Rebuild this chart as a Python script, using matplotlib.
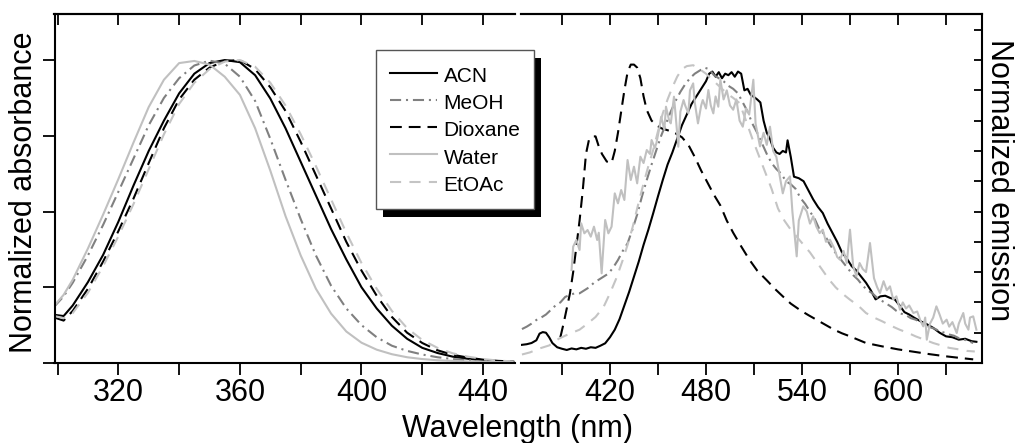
import matplotlib
matplotlib.use('Agg')
import matplotlib.pyplot as plt
import numpy as np
from matplotlib.patches import Rectangle
from matplotlib.transforms import IdentityTransform

plt.rcParams['font.family'] = ['Liberation Sans', 'DejaVu Sans']
plt.rcParams['lines.scale_dashes'] = False

# absorbance (left panel)
abs_wl = [299, 302, 305, 310, 315, 320, 325, 330, 335, 340, 345, 350, 355, 360, 365, 370,
          375, 380, 385, 390, 395, 400, 405, 410, 415, 420, 425, 430, 435, 440, 445, 450]
abs_acn = [0.159, 0.155, 0.19, 0.267, 0.357, 0.466, 0.586, 0.70, 0.80, 0.89, 0.955, 0.99, 1.0, 0.993,
           0.95, 0.873, 0.775, 0.664, 0.553, 0.442, 0.342, 0.25, 0.18, 0.123, 0.08, 0.05, 0.033,
           0.021, 0.014, 0.009, 0.006, 0.004]
abs_meoh = [0.187, 0.22, 0.265, 0.355, 0.456, 0.565, 0.675, 0.785, 0.875, 0.94, 0.982, 0.998, 0.988,
            0.945, 0.865, 0.74, 0.605, 0.475, 0.355, 0.255, 0.18, 0.125, 0.085, 0.057, 0.04, 0.028,
            0.019, 0.013, 0.009, 0.006, 0.004, 0.003]
abs_diox = [0.15, 0.14, 0.172, 0.245, 0.335, 0.435, 0.543, 0.66, 0.775, 0.87, 0.935, 0.975, 0.997,
            1.0, 0.97, 0.91, 0.832, 0.73, 0.62, 0.51, 0.40, 0.305, 0.222, 0.152, 0.10, 0.066, 0.042,
            0.027, 0.018, 0.011, 0.007, 0.005]
abs_water = [0.19, 0.225, 0.275, 0.378, 0.49, 0.607, 0.728, 0.845, 0.935, 0.99, 0.997, 0.985, 0.945,
             0.885, 0.775, 0.635, 0.485, 0.355, 0.245, 0.163, 0.104, 0.067, 0.044, 0.029, 0.019,
             0.013, 0.009, 0.007, 0.005, 0.004, 0.003, 0.002]
abs_etoac = [0.155, 0.148, 0.165, 0.232, 0.32, 0.418, 0.525, 0.64, 0.755, 0.855, 0.925, 0.97, 0.995,
             1.0, 0.978, 0.925, 0.85, 0.755, 0.65, 0.54, 0.43, 0.33, 0.245, 0.172, 0.115, 0.076,
             0.05, 0.032, 0.021, 0.013, 0.008, 0.005]

# emission (right panel)
em_acn_wl = [365, 368, 371, 374, 376, 378, 380, 382, 384, 387, 390, 393, 396, 399, 402, 405, 408,
             411, 414, 417, 420, 423, 426, 429, 432, 435, 438, 441, 444, 447, 450, 453, 456, 459,
             462, 465, 468, 471, 474, 477, 480, 482, 484, 486, 488, 490, 492, 494, 496, 498, 500,
             502, 504, 506, 508, 510, 512, 514, 516, 518, 520, 522, 524, 526, 528, 530, 531, 533,
             535, 538, 541, 544, 547, 550, 553, 556, 559, 562, 565, 568, 571, 574, 577, 580, 583,
             586, 589, 592, 595, 598, 601, 604, 607, 610, 614, 618, 622, 626, 630, 634, 638, 642,
             646, 649]
em_acn = [0.06, 0.062, 0.066, 0.075, 0.097, 0.102, 0.1, 0.085, 0.066, 0.052, 0.047, 0.043, 0.048,
          0.045, 0.05, 0.047, 0.052, 0.05, 0.057, 0.065, 0.085, 0.11, 0.145, 0.19, 0.235, 0.285,
          0.335, 0.39, 0.44, 0.494, 0.55, 0.604, 0.655, 0.695, 0.74, 0.785, 0.82, 0.855, 0.88,
          0.905, 0.93, 0.955, 0.962, 0.945, 0.96, 0.94, 0.955, 0.95, 0.96, 0.945, 0.962, 0.955,
          0.9, 0.905, 0.885, 0.878, 0.87, 0.86, 0.8, 0.76, 0.74, 0.71, 0.695, 0.69, 0.7, 0.695,
          0.735, 0.68, 0.615, 0.61, 0.6, 0.57, 0.54, 0.515, 0.495, 0.46, 0.43, 0.4, 0.365, 0.345,
          0.32, 0.305, 0.285, 0.265, 0.24, 0.21, 0.22, 0.222, 0.215, 0.21, 0.19, 0.168, 0.16,
          0.15, 0.138, 0.128, 0.116, 0.1, 0.088, 0.085, 0.077, 0.08, 0.072, 0.07]

em_meoh_wl = list(range(365, 648, 3))
em_meoh = [0.112, 0.12, 0.13, 0.142, 0.15, 0.16, 0.175, 0.19, 0.2, 0.218, 0.225, 0.23, 0.23, 0.24,
           0.25, 0.265, 0.275, 0.285, 0.295, 0.315, 0.34, 0.37, 0.395, 0.44, 0.49, 0.55, 0.604,
           0.655, 0.703, 0.75, 0.79, 0.83, 0.865, 0.895, 0.92, 0.94, 0.955, 0.965, 0.975, 0.97,
           0.95, 0.94, 0.93, 0.915, 0.905, 0.89, 0.86, 0.83, 0.79, 0.76, 0.725, 0.69, 0.66, 0.64,
           0.625, 0.6, 0.59, 0.575, 0.545, 0.525, 0.5, 0.475, 0.44, 0.425, 0.395, 0.37, 0.35, 0.33,
           0.31, 0.29, 0.275, 0.255, 0.24, 0.23, 0.215, 0.205, 0.195, 0.185, 0.172, 0.163, 0.158,
           0.148, 0.143, 0.135, 0.125, 0.118, 0.113, 0.105, 0.1, 0.094, 0.09, 0.082, 0.078, 0.072,
           0.066]

em_diox_wl = [389, 391, 393, 395, 397, 399, 401, 403, 405, 407, 409, 411, 413, 415, 418, 421, 423,
              425, 427, 429, 431, 433, 435, 437, 439, 441, 443, 446, 449, 452, 455, 458, 461, 465,
              469, 473, 477, 481, 485, 489, 493, 497, 502, 507, 512, 518, 523, 528, 533, 539, 544,
              549, 555, 560, 565, 570, 575, 580, 590, 600, 610, 620, 630, 640, 647]
em_diox = [0.085, 0.13, 0.18, 0.23, 0.3, 0.384, 0.47, 0.57, 0.69, 0.74, 0.748, 0.748, 0.715, 0.69,
           0.665, 0.66, 0.7, 0.76, 0.83, 0.9, 0.96, 0.985, 0.985, 0.975, 0.94, 0.88, 0.835, 0.8,
           0.785, 0.775, 0.77, 0.765, 0.758, 0.745, 0.72, 0.68, 0.635, 0.595, 0.555, 0.52, 0.47,
           0.43, 0.385, 0.342, 0.305, 0.273, 0.245, 0.22, 0.196, 0.174, 0.158, 0.143, 0.125, 0.11,
           0.098, 0.088, 0.077, 0.066, 0.055, 0.045, 0.037, 0.029, 0.022, 0.016, 0.012]

em_water_wl = [396, 397, 399, 401, 402, 404, 406, 408, 410, 412, 413, 414.8, 417, 419, 421, 423,
               425, 427, 429, 431, 433, 435, 437, 439, 441, 443, 445, 446, 448, 449, 451, 452, 454,
               455, 457, 458, 460, 461, 462.7, 464, 466, 467, 469, 470, 472, 473, 475, 477, 478,
               480, 481.5, 483, 484.6, 486, 487.7, 489, 491, 493, 495, 497, 499, 501, 503, 505,
               507, 509.6, 511, 513.75, 516, 518, 520, 522, 524, 526, 528, 530, 532.5, 534, 536.7,
               538, 540.8, 543, 545, 547, 549, 551, 553, 555, 557.5, 560, 562, 563.75, 566, 568,
               570, 572, 574, 576, 578, 580, 582.5, 585, 587, 588.75, 591, 593, 595, 597, 599,
               601.25, 603, 605, 607, 609.6, 612, 614, 615.8, 617, 618, 620, 622, 624, 626, 628,
               630.4, 632, 634, 636.7, 638, 640.8, 642, 644, 645, 647, 649]
em_water = [0.307, 0.384, 0.406, 0.373, 0.461, 0.428, 0.439, 0.417, 0.45, 0.406, 0.43, 0.296,
            0.472, 0.428, 0.45, 0.56, 0.527, 0.571, 0.538, 0.67, 0.604, 0.648, 0.593, 0.681, 0.66,
            0.703, 0.69, 0.736, 0.71, 0.725, 0.78, 0.813, 0.77, 0.846, 0.8, 0.791, 0.879, 0.82,
            0.714, 0.83, 0.868, 0.85, 0.824, 0.9, 0.923, 0.86, 0.791, 0.85, 0.868, 0.84, 0.901,
            0.85, 0.824, 0.88, 0.846, 0.935, 0.87, 0.9, 0.85, 0.836, 0.87, 0.8, 0.78, 0.84, 0.82,
            0.935, 0.79, 0.715, 0.76, 0.72, 0.78, 0.7, 0.68, 0.62, 0.56, 0.6, 0.616, 0.5, 0.352,
            0.47, 0.517, 0.5, 0.46, 0.484, 0.45, 0.429, 0.44, 0.4, 0.407, 0.38, 0.35, 0.341, 0.37,
            0.33, 0.44, 0.32, 0.286, 0.33, 0.31, 0.3, 0.396, 0.28, 0.25, 0.231, 0.27, 0.24, 0.253,
            0.21, 0.22, 0.176, 0.2, 0.18, 0.19, 0.165, 0.17, 0.14, 0.121, 0.15, 0.077, 0.13, 0.15,
            0.187, 0.16, 0.13, 0.143, 0.12, 0.135, 0.099, 0.13, 0.165, 0.13, 0.11, 0.15, 0.154, 0.11]

em_etoac_wl = [365, 370, 376, 382, 388, 394, 401, 406, 411, 416, 420, 424, 428, 431, 434, 437, 441,
               444, 447, 450, 453, 456, 459, 462, 465, 468, 472, 476, 480, 484, 488, 493, 497, 501,
               505, 509, 513, 517, 521, 525, 529, 533, 537, 541, 545, 549, 553, 557, 561, 565, 570,
               575, 580, 585, 590, 596, 601, 606, 611, 616, 622, 627, 632, 638, 643, 648]
em_etoac = [0.028, 0.035, 0.048, 0.058, 0.08, 0.095, 0.11, 0.13, 0.152, 0.185, 0.23, 0.28, 0.34,
            0.39, 0.445, 0.51, 0.593, 0.65, 0.703, 0.765, 0.824, 0.87, 0.91, 0.945, 0.97, 0.98,
            0.983, 0.97, 0.955, 0.935, 0.915, 0.89, 0.875, 0.858, 0.8, 0.74, 0.685, 0.63, 0.575,
            0.51, 0.47, 0.44, 0.415, 0.39, 0.365, 0.335, 0.305, 0.275, 0.25, 0.23, 0.209, 0.19,
            0.165, 0.15, 0.138, 0.122, 0.11, 0.1, 0.088, 0.078, 0.066, 0.058, 0.05, 0.045, 0.04,
            0.038]

labels = ['ACN', 'MeOH', 'Dioxane', 'Water', 'EtOAc']
styles = {
    'ACN': dict(color='black', ls='-'),
    'MeOH': dict(color='#808080', dashes=(8, 3.5, 1.5, 3.5)),
    'Dioxane': dict(color='black', dashes=(8.5, 5)),
    'Water': dict(color='#c0c0c0', ls='-'),
    'EtOAc': dict(color='#c4c4c4', dashes=(8, 6)),
}

W, H = 1027, 443
fig = plt.figure(figsize=(W / 100, H / 100), dpi=100)
ax1 = fig.add_axes([54.5 / W, 1 - 363 / H, (515 - 54.5) / W, (363 - 14) / H])
ax2 = fig.add_axes([521 / W, 1 - 363 / H, (982 - 521) / W, (363 - 14) / H])

lw = 1.5
abs_data = [abs_acn, abs_meoh, abs_diox, abs_water, abs_etoac]
handles = []
for name, ys in zip(labels, abs_data):
    h, = ax1.plot(abs_wl, ys, lw=lw, label=name, **styles[name])
    handles.append(h)

em_data = [(em_acn_wl, em_acn), (em_meoh_wl, em_meoh), (em_diox_wl, em_diox),
           (em_water_wl, em_water), (em_etoac_wl, em_etoac)]
for name, (xs, ys) in zip(labels, em_data):
    ax2.plot(xs, ys, lw=lw, **styles[name])

ax1.set_xlim(299, 450.5)
ax2.set_xlim(364.4, 652.5)
for ax in (ax1, ax2):
    ax.set_ylim(0, 1.152)
    for s in ax.spines.values():
        s.set_linewidth(1.5)

ax1.spines['right'].set_visible(False)
ax2.spines['left'].set_visible(False)

# left panel ticks
ax1.set_xticks(np.arange(300, 441, 20))
ax1.set_xticklabels(['' if v % 40 else str(v) for v in range(300, 441, 20)])
ax1.set_yticks([0, 0.25, 0.5, 0.75, 1.0])
ax1.tick_params(axis='x', direction='out', length=8.5, width=1.3, labelsize=22, pad=2, top=False)
ax1.tick_params(axis='y', direction='out', length=8.5, width=1.3, labelleft=False, right=False)
top1 = ax1.secondary_xaxis('top')
top1.set_xticks(np.arange(300, 441, 20))
top1.tick_params(direction='in', length=8, width=1.3, labeltop=False)
top1.spines['top'].set_linewidth(1.5)

# right panel ticks
ax2.set_xticks(np.arange(390, 631, 30))
ax2.set_xticklabels([str(v) if v % 60 == 0 else '' for v in range(390, 631, 30)])
ax2.yaxis.tick_right()
ax2.set_yticks(np.arange(0.1, 1.11, 0.1))
ax2.tick_params(axis='x', direction='out', length=8.5, width=1.3, labelsize=22, pad=2, top=False)
ax2.tick_params(axis='y', direction='in', length=6, width=1.3, labelright=False, left=False)
top2 = ax2.secondary_xaxis('top')
top2.set_xticks(np.arange(390, 631, 30))
top2.tick_params(direction='in', length=8, width=1.3, labeltop=False)
top2.spines['top'].set_linewidth(1.5)

fig.text(24 / W, 1 - 192 / H, 'Normalized absorbance', rotation=90, ha='center', va='center',
         fontsize=22)
fig.text(999 / W, 1 - 180 / H, 'Normalized emission', rotation=-90, ha='center', va='center',
         fontsize=22)
fig.text(518 / W, 1 - 437 / H, 'Wavelength (nm)', ha='center', va='baseline', fontsize=22)

leg = fig.legend(handles, labels, loc='upper left', bbox_to_anchor=(376 / W, 1 - 50 / H),
                 borderaxespad=0, fontsize=15, handlelength=2.3, handletextpad=0.3,
                 handleheight=1.3, labelspacing=0.216, borderpad=0.65, fancybox=False,
                 framealpha=1, edgecolor='#555555')
leg.get_frame().set_linewidth(1.0)
leg.set_zorder(6)

# black drop shadow behind the legend box
fig.canvas.draw()
bb = leg.get_frame().get_window_extent()
shadow = Rectangle((bb.x0 + 7, bb.y0 - 8), bb.width, bb.height, transform=IdentityTransform(),
                   facecolor='black', edgecolor='none', zorder=5.5)
fig.add_artist(shadow)

fig.savefig('out.png', dpi=100)
